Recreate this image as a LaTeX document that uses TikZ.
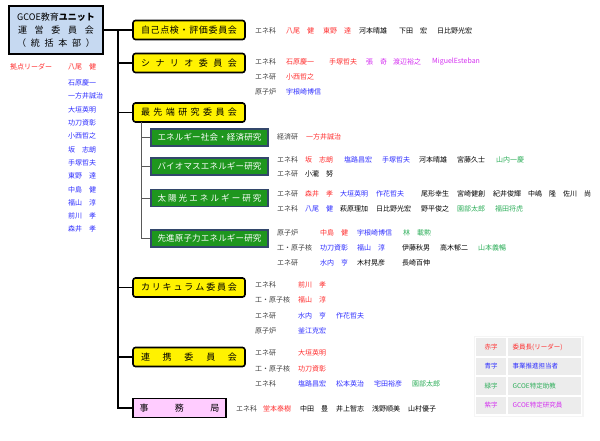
\documentclass[tikz,border=0pt]{standalone}
\usepackage{fontspec}
\setmainfont{Noto Sans CJK JP}
\usepackage{tikz}
\usepackage{xcolor}
\usetikzlibrary{positioning}

\definecolor{jred}{HTML}{FF2E2E}
\definecolor{jblue}{HTML}{2E2EFF}
\definecolor{jgreen}{HTML}{2EAE5A}
\definecolor{jpurple}{HTML}{D42EF0}
\definecolor{jgray}{HTML}{404040}
\definecolor{unitblue}{HTML}{C6D9F1}
\definecolor{gfill}{HTML}{1E961E}
\definecolor{gborder}{HTML}{33476B}
\definecolor{pinkfill}{HTML}{FFCCFF}

\newcommand{\spreadbox}[2]{\hbox to #1{#2}}

\tikzset{
  unitbox/.style={draw=black, line width=1.6pt, fill=unitblue, minimum width=94pt, minimum height=48pt, inner sep=0pt, align=center, font=\fontsize{9}{13}\selectfont},
  ybox/.style={draw=black, line width=1.6pt, fill=yellow, rounded corners=2.5pt, minimum width=112pt, minimum height=19pt, inner sep=0pt, font=\fontsize{9}{10}\selectfont},
  gbox/.style={draw=gborder, line width=1.2pt, fill=gfill, text=white, minimum width=117pt, minimum height=17pt, inner sep=0pt, font=\fontsize{8.5}{10}\selectfont},
  pbox/.style={ybox, fill=pinkfill, rounded corners=0pt, minimum width=93pt},
  mainline/.style={line width=1.3pt, black},
  subline/.style={line width=0.9pt, gray!70!black},
  nm/.style={anchor=west, inner sep=0pt, font=\fontsize{7}{8}\selectfont},
  legcell/.style={draw=white, line width=1.2pt, fill=gray!15, inner sep=0pt, minimum height=19pt, font=\fontsize{6.5}{7}\selectfont}
}

\begin{document}
\begin{tikzpicture}[x=1pt, y=-1pt]
  \useasboundingbox (0,0) rectangle (600,440);
  % 運営委員会
  \node[unitbox] (unit) at (56,30) {GCOE教育{\bfseries ユニット}\\\spreadbox{76pt}{運\hfil 営\hfil 委\hfil 員\hfil 会}\\\spreadbox{78pt}{（\hfil 統\hfil 括\hfil 本\hfil 部\hfil ）}};
  % 委員会
  \node[ybox] (jiko) at (189,30) {\spreadbox{96pt}{自\hfil 己\hfil 点\hfil 検\hfil ・\hfil 評\hfil 価\hfil 委\hfil 員\hfil 会}};
  \node[ybox] (scen) at (189,63) {\spreadbox{96pt}{シ\hfil ナ\hfil リ\hfil オ\hfil 委\hfil 員\hfil 会}};
  \node[ybox] (saisen) at (189,112.5) {\spreadbox{96pt}{最\hfil 先\hfil 端\hfil 研\hfil 究\hfil 委\hfil 員\hfil 会}};
  \node[ybox] (curri) at (189,287.5) {\spreadbox{96pt}{カ\hfil リ\hfil キ\hfil ュ\hfil ラ\hfil ム\hfil 委\hfil 員\hfil 会}};
  \node[ybox] (renkei) at (189,357) {\spreadbox{96pt}{連\hfil 携\hfil 委\hfil 員\hfil 会}};
  \node[pbox] (jimu) at (179.5,408) {\spreadbox{80pt}{事\hfil 務\hfil 局}};
  % 研究グループ
  \node[gbox] (eco) at (209.5,137.5) {\spreadbox{104pt}{エ\hfil ネ\hfil ル\hfil ギ\hfil ー\hfil 社\hfil 会\hfil ・\hfil 経\hfil 済\hfil 研\hfil 究}};
  \node[gbox] (bio) at (209.5,166.5) {\spreadbox{104pt}{バ\hfil イ\hfil オ\hfil マ\hfil ス\hfil エ\hfil ネ\hfil ル\hfil ギ\hfil ー\hfil 研\hfil 究}};
  \node[gbox] (solar) at (209.5,198) {\spreadbox{104pt}{太\hfil 陽\hfil 光\hfil エ\hfil ネ\hfil ル\hfil ギ\hfil ー\hfil 研\hfil 究}};
  \node[gbox] (nuc) at (209.5,238.5) {\spreadbox{104pt}{先\hfil 進\hfil 原\hfil 子\hfil 力\hfil エ\hfil ネ\hfil ル\hfil ギ\hfil ー\hfil 研\hfil 究}};
  % 線
  \coordinate (trunk) at (118,30);
  \coordinate (gtrunk) at (141,122);
  \draw[mainline] (unit.east) -- (jiko.west);
  \draw[mainline] (trunk) |- (jimu.west);
  \foreach \b in {scen,saisen,curri,renkei}
    \draw[mainline] (trunk |- \b.west) -- (\b.west);
  \draw[subline] (gtrunk) |- (nuc.west);
  \foreach \g in {eco,bio,solar}
    \draw[subline] (gtrunk |- \g.west) -- (\g.west);
  % 拠点リーダー
  \node[nm, jred] (leadlab) at (10,67) {拠点リーダー};
  \node[nm, jred] (leader) at (68,67) {八尾　健};
  \foreach \t [count=\i] in {石原慶一,一方井誠治,大垣英明,功刀資彰,小西哲之,坂　志朗,手塚哲夫,東野　達,中島　健,福山　淳,前川　孝,森井　孝}
    \node[nm, jblue] (mem\i) at (68,69.7+13.3*\i) {\t};
  % 自己点検・評価委員会
  \foreach \x/\t/\c [count=\i] in {255/エネ科/jgray, 286/八尾　健/jred, 323/東野　達/jred, 359/河本晴雄/black, 399/下田　宏/black, 437/日比野光宏/black}
    \node[nm, \c] (jiko-\i) at (\x,31) {\t};
  % シナリオ委員会
  \foreach \x/\t/\c [count=\i] in {255/エネ科/jgray, 286/石原慶一/jred, 329/手塚哲夫/jred, 366/張　奇/jpurple, 393/渡辺裕之/jpurple, 432/MiguelEsteban/jpurple}
    \node[nm, \c] (scenA-\i) at (\x,62) {\t};
  \node[nm, jgray] (scenB-1) at (255,77) {エネ研};
  \node[nm, jred] (scenB-2) at (286,77) {小西哲之};
  \node[nm, jgray] (scenC-1) at (255,92) {原子炉};
  \node[nm, jblue] (scenC-2) at (286,92) {宇根崎博信};
  % エネルギー社会・経済研究
  \node[nm, jgray] (eco-1) at (277,137) {経済研};
  \node[nm, jred] (eco-2) at (306,137) {一方井誠治};
  % バイオマスエネルギー研究
  \foreach \x/\t/\c [count=\i] in {277/エネ科/jgray, 305/坂　志朗/jred, 344/塩路昌宏/jblue, 382/手塚哲夫/jblue, 419/河本晴雄/black, 457/宮藤久士/black, 496/山内一慶/jgreen}
    \node[nm, \c] (bioA-\i) at (\x,160) {\t};
  \node[nm, jgray] (bioB-1) at (277,174) {エネ研};
  \node[nm, black] (bioB-2) at (305,174) {小瀧　努};
  % 太陽光エネルギー研究
  \foreach \x/\t/\c [count=\i] in {277/エネ研/jgray, 305/森井　孝/jred, 340/大垣英明/jblue, 376/作花哲夫/jblue, 421/尾形幸生/black, 457/宮崎健創/black, 493/紀井俊輝/black, 528/中嶋　隆/black, 563/佐川　尚/black}
    \node[nm, \c] (solA-\i) at (\x,194) {\t};
  \foreach \x/\t/\c [count=\i] in {277/エネ科/jgray, 305/八尾　健/jblue, 340/萩原理加/black, 376/日比野光宏/black, 421/野平俊之/black, 457/園部太郎/jgreen, 495/福田将虎/jgreen}
    \node[nm, \c] (solB-\i) at (\x,209) {\t};
  % 先進原子力エネルギー研究
  \foreach \x/\t/\c [count=\i] in {277/原子炉/jgray, 320/中島　健/jred, 357/宇根崎博信/jblue, 403/林　載勲/jgreen}
    \node[nm, \c] (nucA-\i) at (\x,233) {\t};
  \foreach \x/\t/\c [count=\i] in {277/工・原子核/jgray, 320/功刀資彰/jblue, 357/福山　淳/jblue, 402/伊藤秋男/black, 440/高木郁二/black, 478/山本義暢/jgreen}
    \node[nm, \c] (nucB-\i) at (\x,248) {\t};
  \foreach \x/\t/\c [count=\i] in {277/エネ研/jgray, 320/水内　亨/jblue, 357/木村晃彦/black, 402/長崎百伸/black}
    \node[nm, \c] (nucC-\i) at (\x,263) {\t};
  % カリキュラム委員会
  \foreach \y/\d/\t/\c [count=\i] in {285/エネ科/前川　孝/jred, 300/工・原子核/福山　淳/jred, 316/エネ研/水内　亨/jblue, 331/原子炉/釜江克宏/jblue}
  {
    \node[nm, jgray] (curD-\i) at (255,\y) {\d};
    \node[nm, \c] (curN-\i) at (298,\y) {\t};
  }
  \node[nm, jblue] (curN-5) at (336,316) {作花哲夫};
  % 連携委員会
  \node[nm, jgray] (renA-1) at (255,353) {エネ研};
  \node[nm, jred] (renA-2) at (298,353) {大垣英明};
  \node[nm, jgray] (renB-1) at (255,369) {工・原子核};
  \node[nm, jred] (renB-2) at (298,369) {功刀資彰};
  \foreach \x/\t/\c [count=\i] in {255/エネ科/jgray, 298/塩路昌宏/jblue, 336/松本英治/jblue, 374/宅田裕彦/jblue, 412/園部太郎/jgreen}
    \node[nm, \c] (renC-\i) at (\x,384) {\t};
  % 事務局
  \foreach \x/\t/\c [count=\i] in {236/エネ科/jgray, 263/堂本泰樹/jred, 300/中田　豊/black, 336/井上智志/black, 372/浅野順美/black, 408/山村優子/black}
    \node[nm, \c] (jimu-\i) at (\x,409) {\t};
  % 凡例
  \fill[gray!8] (474,336) rectangle (584,417);
  \foreach \k/\v/\c [count=\i] in {赤字/委員長(リーダー)/jred, 青字/事業推進担当者/jblue, 緑字/GCOE特定助教/jgreen, 紫字/GCOE特定研究員/jpurple}
  {
    \node[legcell, minimum width=31pt, text=\c] (key\i) at (491,327.5+19.5*\i) {\k};
    \node[legcell, text width=64pt, inner xsep=5pt, align=left, text=\c, right=0pt of key\i] (val\i) {\v};
  }
\end{tikzpicture}
\end{document}
